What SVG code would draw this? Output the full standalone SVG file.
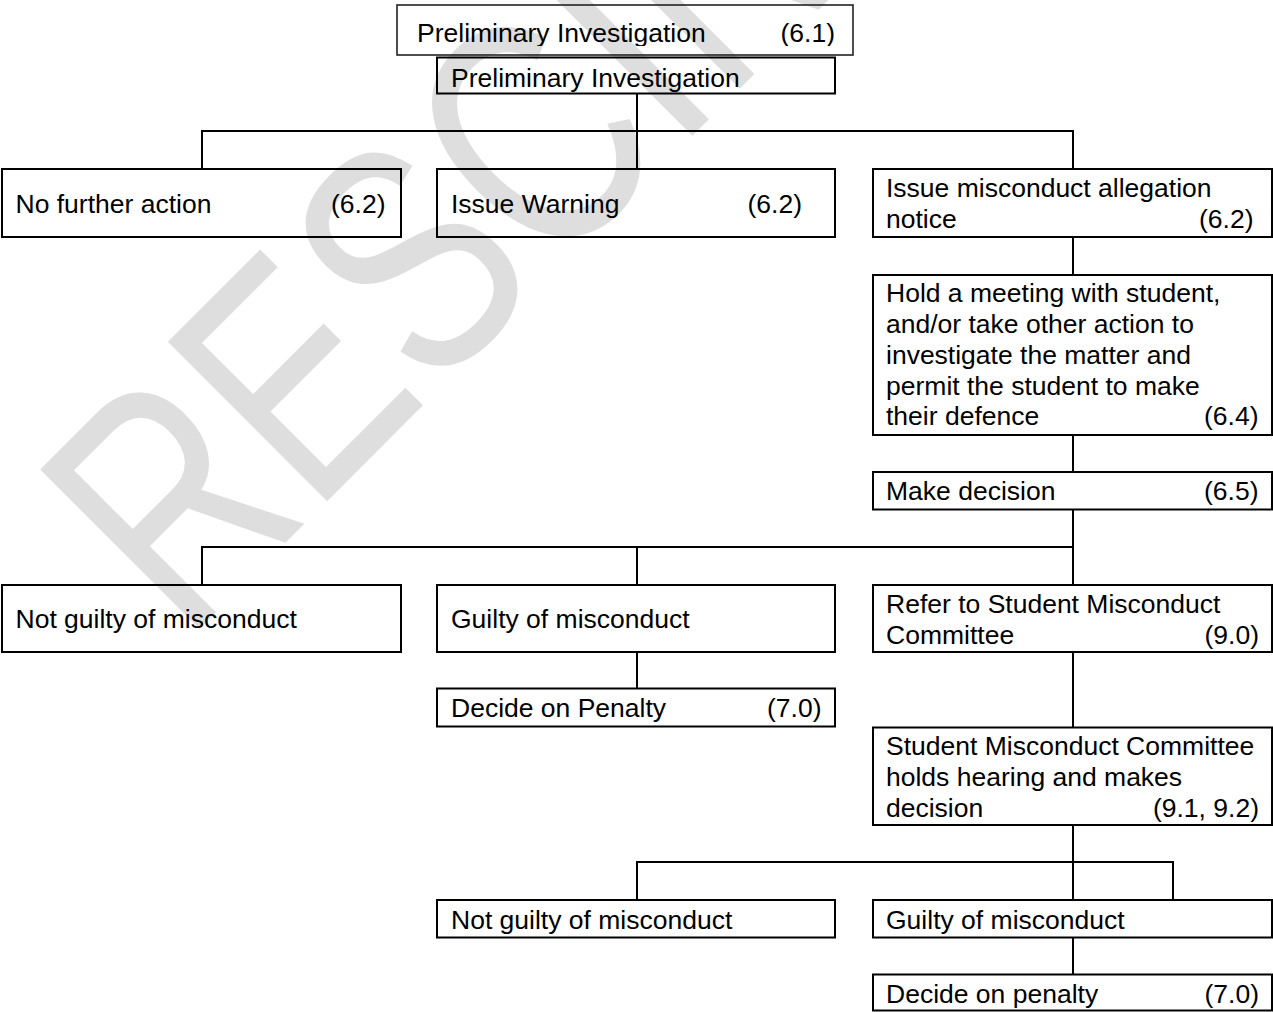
<svg xmlns="http://www.w3.org/2000/svg" width="1273" height="1012" viewBox="0 0 1273 1012">
<style>
.box{fill:none;stroke:#000;stroke-width:2}
.boxa{fill:none;stroke:#222;stroke-width:1.6}
.t{font-family:"Liberation Sans",Arial,sans-serif;font-size:26.5px;fill:#000}
.e{text-anchor:end}
.wm{font-family:"Liberation Sans",Arial,sans-serif;font-size:250px;fill:#dedede}
#connectors path{fill:none;stroke:#000;stroke-width:2}
</style>
<defs>
<clipPath id="clipA"><rect x="397" y="5" width="456" height="41"/></clipPath>
</defs>
<rect width="1273" height="1012" fill="#fff"/>
<g id="watermark">
<text class="wm" transform="translate(185,643.3) rotate(-45) scale(1,1.31)" x="0" y="0">RESCINDED</text>
</g>
<g id="connectors">
<path d="M637,93 V131"/>
<path d="M202,168 V131 H1073 V168"/>
<path d="M637,131 V168"/>
<path d="M1073,237 V275"/>
<path d="M1073,435 V472"/>
<path d="M1073,509 V585"/>
<path d="M202,585 V547 H1073"/>
<path d="M637,547 V585"/>
<path d="M637,652 V688"/>
<path d="M1073,652 V727"/>
<path d="M1073,825 V900"/>
<path d="M637,900 V862 H1173 V900"/>
<path d="M1073,937 V974"/>
</g>
<g id="n_prelim61">
<rect class="boxa" x="397" y="5" width="456" height="50"/>
<g clip-path="url(#clipA)">
<text class="t" x="417" y="42">Preliminary Investigation</text>
<text class="t e" x="835" y="42">(6.1)</text>
</g>
</g>
<g id="n_prelim">
<rect class="box" x="437" y="57.5" width="398" height="36"/>
<text class="t" x="451" y="86.5">Preliminary Investigation</text>
</g>
<g id="n_nofurther">
<rect class="box" x="2" y="169" width="399" height="68"/>
<text class="t" x="15.5" y="212.5">No further action</text>
<text class="t e" x="385.5" y="212.5">(6.2)</text>
</g>
<g id="n_warning">
<rect class="box" x="437" y="169" width="398" height="68"/>
<text class="t" x="451" y="212.5">Issue Warning</text>
<text class="t e" x="802" y="212.5">(6.2)</text>
</g>
<g id="n_notice">
<rect class="box" x="873" y="169" width="399" height="68"/>
<text class="t" x="886" y="197">Issue misconduct allegation</text>
<text class="t" x="886" y="228">notice</text>
<text class="t e" x="1253.5" y="228">(6.2)</text>
</g>
<g id="n_meeting">
<rect class="box" x="873" y="275" width="399" height="160"/>
<text class="t" x="886" y="302">Hold a meeting with student,</text>
<text class="t" x="886" y="333">and/or take other action to</text>
<text class="t" x="886" y="364">investigate the matter and</text>
<text class="t" x="886" y="394.5">permit the student to make</text>
<text class="t" x="886" y="425">their defence</text>
<text class="t e" x="1258.5" y="425">(6.4)</text>
</g>
<g id="n_decision">
<rect class="box" x="873" y="472" width="399" height="37.5"/>
<text class="t" x="886" y="500">Make decision</text>
<text class="t e" x="1258.5" y="500">(6.5)</text>
</g>
<g id="n_notguilty1">
<rect class="box" x="2" y="585" width="399" height="67"/>
<text class="t" x="15.5" y="628">Not guilty of misconduct</text>
</g>
<g id="n_guilty1">
<rect class="box" x="437" y="585" width="398" height="67"/>
<text class="t" x="451" y="628">Guilty of misconduct</text>
</g>
<g id="n_refer">
<rect class="box" x="873" y="585" width="399" height="67"/>
<text class="t" x="886" y="613">Refer to Student Misconduct</text>
<text class="t" x="886" y="643.5">Committee</text>
<text class="t e" x="1259" y="643.5">(9.0)</text>
</g>
<g id="n_penalty1">
<rect class="box" x="437" y="688.5" width="398" height="38"/>
<text class="t" x="451" y="717">Decide on Penalty</text>
<text class="t e" x="821.5" y="717">(7.0)</text>
</g>
<g id="n_committee">
<rect class="box" x="873" y="727.5" width="399" height="97.5"/>
<text class="t" x="886" y="754.5">Student Misconduct Committee</text>
<text class="t" x="886" y="785.5">holds hearing and makes</text>
<text class="t" x="886" y="816.5">decision</text>
<text class="t e" x="1259" y="816.5">(9.1, 9.2)</text>
</g>
<g id="n_notguilty2">
<rect class="box" x="437" y="900" width="398" height="37.5"/>
<text class="t" x="451" y="928.5">Not guilty of misconduct</text>
</g>
<g id="n_guilty2">
<rect class="box" x="873" y="900" width="399" height="37.5"/>
<text class="t" x="886" y="928.5">Guilty of misconduct</text>
</g>
<g id="n_penalty2">
<rect class="box" x="873" y="974.5" width="399" height="36"/>
<text class="t" x="886" y="1003">Decide on penalty</text>
<text class="t e" x="1259" y="1003">(7.0)</text>
</g>
</svg>
